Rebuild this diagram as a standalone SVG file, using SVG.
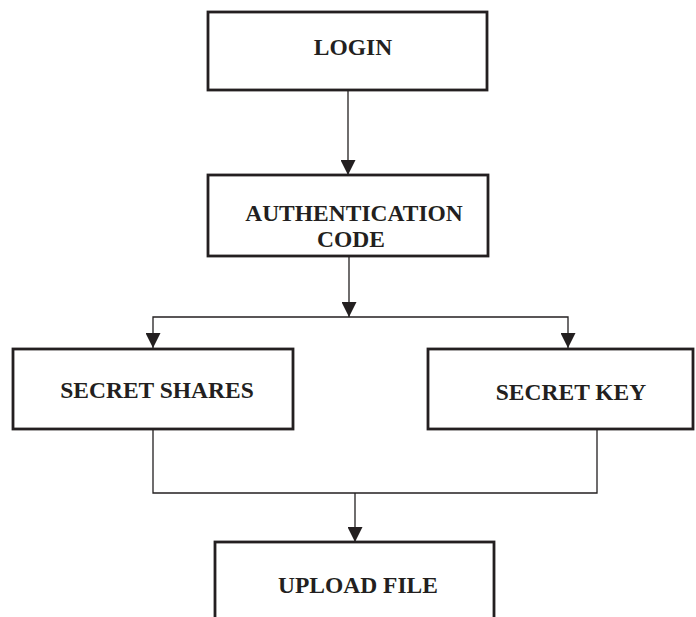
<svg xmlns="http://www.w3.org/2000/svg" width="696" height="617" viewBox="0 0 696 617">
<style>
.box{fill:#fff;stroke:#231f20;stroke-width:2.8}
.lbl{font-family:"Liberation Serif","Times New Roman",serif;font-weight:bold;font-size:23.5px;fill:#231f20;text-anchor:middle}
.con{fill:none;stroke:#231f20;stroke-width:1.3}
</style>
<defs>
<marker id="ah" markerUnits="userSpaceOnUse" markerWidth="15" markerHeight="15" refX="15" refY="7.5" orient="auto">
<path d="M0,0 L15,7.5 L0,15 z" fill="#231f20"/>
</marker>
</defs>
<g id="connectors">
<path class="con" d="M348,91 V175" marker-end="url(#ah)"/>
<path class="con" d="M349,256 V317" marker-end="url(#ah)"/>
<path class="con" d="M349,317 H153 V348" marker-end="url(#ah)"/>
<path class="con" d="M349,317 H568 V348" marker-end="url(#ah)"/>
<path class="con" d="M153,429 V493 H597 V429"/>
<path class="con" d="M355,493 V542" marker-end="url(#ah)"/>
</g>
<g id="login">
<rect class="box" x="208" y="12" width="279" height="78"/>
<text class="lbl" x="353" y="55">LOGIN</text>
</g>
<g id="auth">
<rect class="box" x="208" y="175" width="280" height="81"/>
<text class="lbl" x="354" y="221">AUTHENTICATION</text>
<text class="lbl" x="351" y="247">CODE</text>
</g>
<g id="shares">
<rect class="box" x="13" y="349" width="280" height="80"/>
<text class="lbl" x="157" y="398">SECRET SHARES</text>
</g>
<g id="key">
<rect class="box" x="428" y="349" width="265" height="80"/>
<text class="lbl" x="571" y="400">SECRET KEY</text>
</g>
<g id="upload">
<rect class="box" x="215" y="542" width="279" height="100"/>
<text class="lbl" x="358" y="593">UPLOAD FILE</text>
</g>
</svg>
